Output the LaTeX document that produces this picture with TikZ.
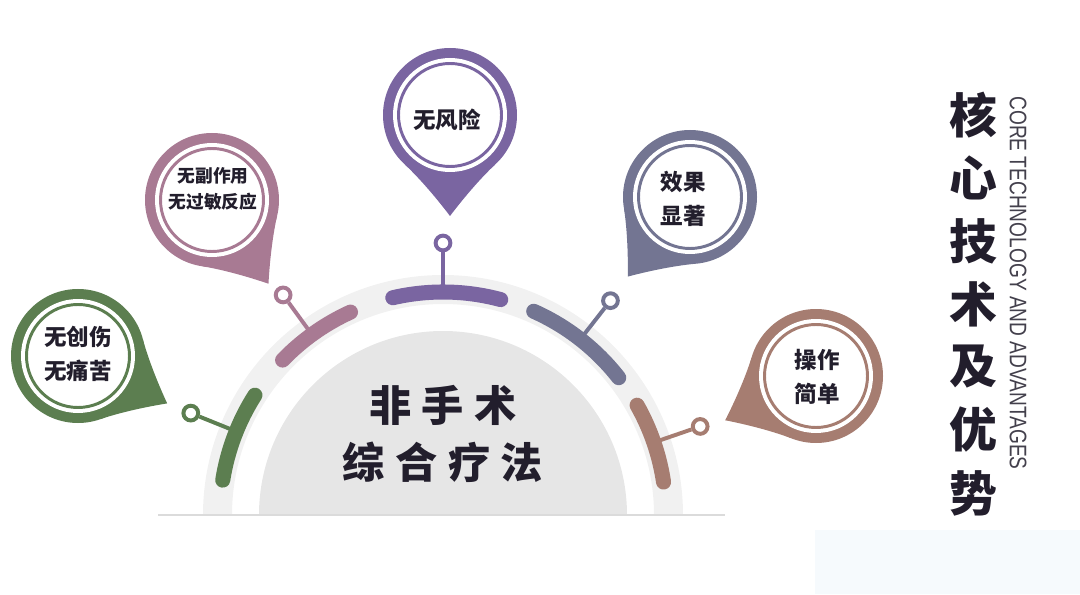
\documentclass[tikz,border=0pt]{standalone}
\usepackage{graphicx}
\usepackage{fontspec}
\setmainfont{Noto Sans CJK SC}
\newfontfamily\latinfont{Liberation Sans}
\usetikzlibrary{calc,positioning}
\definecolor{adv_green}{HTML}{5C7E50}
\definecolor{adv_mauve}{HTML}{A87A93}
\definecolor{adv_purple}{HTML}{7A65A1}
\definecolor{adv_slate}{HTML}{737592}
\definecolor{adv_brown}{HTML}{A67D71}
\definecolor{adv_band}{HTML}{F1F1F1}
\definecolor{adv_disc}{HTML}{E6E6E6}
\definecolor{adv_text}{HTML}{221E2C}
\definecolor{adv_tint}{HTML}{F6FAFD}

\begin{document}
\begin{tikzpicture}[
        x=0.025cm, y=0.025cm,
        bubbletext/.style={align=center, text=adv_text, font=\bfseries\fontsize{16}{24}\selectfont},
        smalltext/.style={bubbletext, font=\bfseries\fontsize{12.6}{19}\selectfont},
        centertext/.style={align=center, text=adv_text, font=\bfseries\fontsize{30}{40}\selectfont\addfontfeature{LetterSpace=25}},
        titlechar/.style={text=adv_text, font=\bfseries\fontsize{34}{34}\selectfont, inner sep=0},
        segment/.style={line width=10.7pt, line cap=round},
        stemline/.style={line width=2.8pt},
        pin/.style={circle, draw, fill=white, line width=2.8pt, minimum size=10.5pt, inner sep=0},
    ]
    \useasboundingbox (0,0) rectangle (1080,594);
    \fill[adv_tint] (815,0) rectangle (1080,64);

    % Half disc
    \coordinate (O) at (443,79);
    \fill[adv_band] ($(O)+(-240,0)$) arc[start angle=180, end angle=0, radius=240]
        -- ($(O)+(211,0)$) arc[start angle=0, end angle=180, radius=211] -- cycle;
    \fill[adv_disc] ($(O)+(-184,0)$) arc[start angle=180, end angle=0, radius=184] -- cycle;
    \coordinate (baseL) at (158,79);
    \coordinate (baseR) at (725,79);
    \draw[black!14, line width=1.4pt] (baseL) -- (baseR);

    \node[centertext] (therapy) at (443,160) {非手术\\综合疗法};

    % Arc segments and pins
    \foreach \a/\b/\p/\col [count=\i] in {147.5/171/158/adv_green, 114.5/136/126/adv_mauve, 75/103/90/adv_purple, 38/66/52/adv_slate, 8.5/29.5/19/adv_brown} {
        \draw[segment, \col] ($(O)+(\a:223)$) arc[start angle=\a, end angle=\b, radius=223];
        \coordinate (stem\i) at ($(O)+(\p:228)$);
        \node[pin, draw=\col] (ring\i) at ($(O)+(\p:272)$) {};
        \draw[stemline, \col] (stem\i) -- (ring\i);
    }

    % Bubbles
    \foreach \cx/\cy/\ang/\col [count=\i] in {78/238/-28/adv_green, 212/394/-56/adv_mauve, 450/479/-90/adv_purple, 690/397/-128/adv_slate, 816/218/-154/adv_brown} {
        \coordinate (bc\i) at (\cx,\cy);
        \fill[\col] (bc\i) circle[radius=67];
        \fill[\col, line join=round] ($(bc\i)+(\ang+42:67)$) .. controls ($(bc\i)+(\ang+24:71)$) and ($(bc\i)+(\ang+8:86)$) .. ($(bc\i)+(\ang:101)$)
            .. controls ($(bc\i)+(\ang-8:86)$) and ($(bc\i)+(\ang-24:71)$) .. ($(bc\i)+(\ang-42:67)$) -- cycle;
        \fill[white] (bc\i) circle[radius=57];
        \draw[\col, line width=2.1pt] (bc\i) circle[radius=51.5];
    }

    \node[bubbletext] (adv1) at (78,240) {无创伤\\无痛苦};
    \node[smalltext] (adv2) at (213,405) {无副作用\\无过敏反应};
    \node[bubbletext] (adv3) at (447,474) {无风险};
    \node[bubbletext] (adv4) at (683,395) {效果\\显著};
    \node[bubbletext] (adv5) at (817,217) {操作\\简单};

    % Title
    \foreach \c [count=\k] in {核,心,技,术,及,优,势}
        \node[titlechar] (tc\k) at (973,{479-63*(\k-1)}) {\c};
    \node[rotate=-90, text=adv_text!85, font=\latinfont\fontsize{17}{17}\selectfont] (entitle) at (1018,311)
        {\scalebox{0.8}[1]{CORE TECHNOLOGY AND ADVANTAGES}};

\end{tikzpicture}
\end{document}
